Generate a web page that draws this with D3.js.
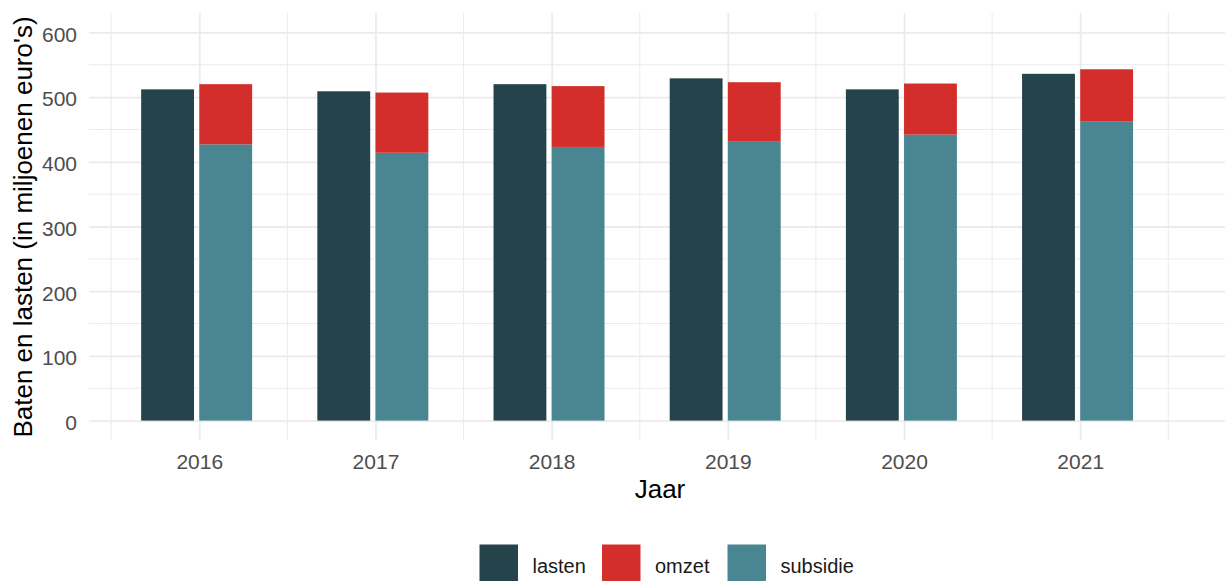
<!DOCTYPE html>
<html>
<head>
<meta charset="utf-8">
<script src="https://cdn.jsdelivr.net/npm/d3@7"></script>
<style>
  html, body { margin: 0; padding: 0; background: #fff; }
  svg { display: block; font-family: "Liberation Sans", Arial, sans-serif; }
</style>
</head>
<body>
<svg id="chart" width="1225" height="581"></svg>
<script>
// Data
const years = [2016, 2017, 2018, 2019, 2020, 2021];
const lasten = [512, 509, 520, 529, 512, 536];
const subsidie = [427, 414, 423, 431, 442, 462];
const omzet = [93, 93, 94, 92, 79, 81];
const yTicks = [0, 100, 200, 300, 400, 500, 600];
const legendItems = ['lasten', 'omzet', 'subsidie'];

const colors = { lasten: '#25434a', omzet: '#d32e2b', subsidie: '#4a8692' };

const svg = d3.select('#chart');
const W = 1225;

// Panel
const panel = { left: 89, right: W, top: 13, bottom: 440 };

const x = d3.scaleLinear()
    .domain([2015.5, 2021.5])
    .range([111.2, 1168.3]);

const y = d3.scaleLinear()
    .domain([-30, 630])
    .range([panel.bottom, panel.top]);

const grid = svg.append('g');

// minor grid lines
const yMinor = yTicks.slice(0, -1).map(v => v + 50);
grid.selectAll('.ymin').data(yMinor).enter().append('line')
    .attr('x1', panel.left).attr('x2', panel.right)
    .attr('y1', d => y(d)).attr('y2', d => y(d))
    .attr('stroke', '#ebebeb').attr('stroke-width', 1);

const xMinor = years.map(v => v - 0.5).concat([years[years.length - 1] + 0.5]);
grid.selectAll('.xmin').data(xMinor).enter().append('line')
    .attr('y1', panel.top).attr('y2', panel.bottom)
    .attr('x1', d => x(d)).attr('x2', d => x(d))
    .attr('stroke', '#ebebeb').attr('stroke-width', 1);

// major grid lines via axes
const yAxis = svg.append('g')
    .attr('transform', `translate(${panel.left},0)`)
    .call(d3.axisLeft(y).tickValues(yTicks).tickSize(-(panel.right - panel.left)).tickPadding(12));
yAxis.select('.domain').remove();
yAxis.selectAll('.tick line').attr('stroke', '#ebebeb').attr('stroke-width', 1.8);
yAxis.selectAll('.tick text')
    .attr('fill', '#4d4d4d').style('font-size', '21px')
    .attr('dy', '0.42em');

const xAxis = svg.append('g')
    .attr('transform', `translate(0,${panel.bottom})`)
    .call(d3.axisBottom(x).tickValues(years).tickFormat(d3.format('d'))
        .tickSize(-(panel.bottom - panel.top)).tickPadding(12));
xAxis.select('.domain').remove();
xAxis.selectAll('.tick line').attr('stroke', '#ebebeb').attr('stroke-width', 1.8);
xAxis.selectAll('.tick text')
    .attr('fill', '#4d4d4d').style('font-size', '21px')
    .attr('y', 29).attr('dy', 0);

// Bars
const bars = svg.append('g');
const bw = 0.3;

bars.selectAll('.lasten').data(years).enter().append('rect')
    .attr('x', d => x(d - 0.33))
    .attr('width', x(bw) - x(0))
    .attr('y', (d, i) => y(lasten[i]))
    .attr('height', (d, i) => y(0) - y(lasten[i]))
    .attr('fill', colors.lasten);

bars.selectAll('.subsidie').data(years).enter().append('rect')
    .attr('x', d => x(d))
    .attr('width', x(bw) - x(0))
    .attr('y', (d, i) => y(subsidie[i]))
    .attr('height', (d, i) => y(0) - y(subsidie[i]))
    .attr('fill', colors.subsidie);

bars.selectAll('.omzet').data(years).enter().append('rect')
    .attr('x', d => x(d))
    .attr('width', x(bw) - x(0))
    .attr('y', (d, i) => y(subsidie[i] + omzet[i]))
    .attr('height', (d, i) => y(subsidie[i]) - y(subsidie[i] + omzet[i]))
    .attr('fill', colors.omzet);

// Axis titles
svg.append('text')
    .attr('x', 660).attr('y', 498)
    .attr('text-anchor', 'middle')
    .style('font-size', '26px').attr('fill', '#000')
    .text('Jaar');

svg.append('text')
    .attr('transform', 'translate(32,227) rotate(-90)')
    .attr('text-anchor', 'middle')
    .style('font-size', '26px').attr('fill', '#000')
    .text("Baten en lasten (in miljoenen euro's)");

// Legend
const legendX = [479.5, 602, 727.5];
const legend = svg.append('g');
legendItems.forEach((k, i) => {
    legend.append('rect')
        .attr('x', legendX[i]).attr('y', 544.5)
        .attr('width', 38.5).attr('height', 38.5)
        .attr('fill', colors[k]);
    legend.append('text')
        .attr('x', legendX[i] + 53).attr('y', 572.5)
        .style('font-size', '20px').attr('fill', '#1a1a1a')
        .text(k);
});
</script>
</body>
</html>
